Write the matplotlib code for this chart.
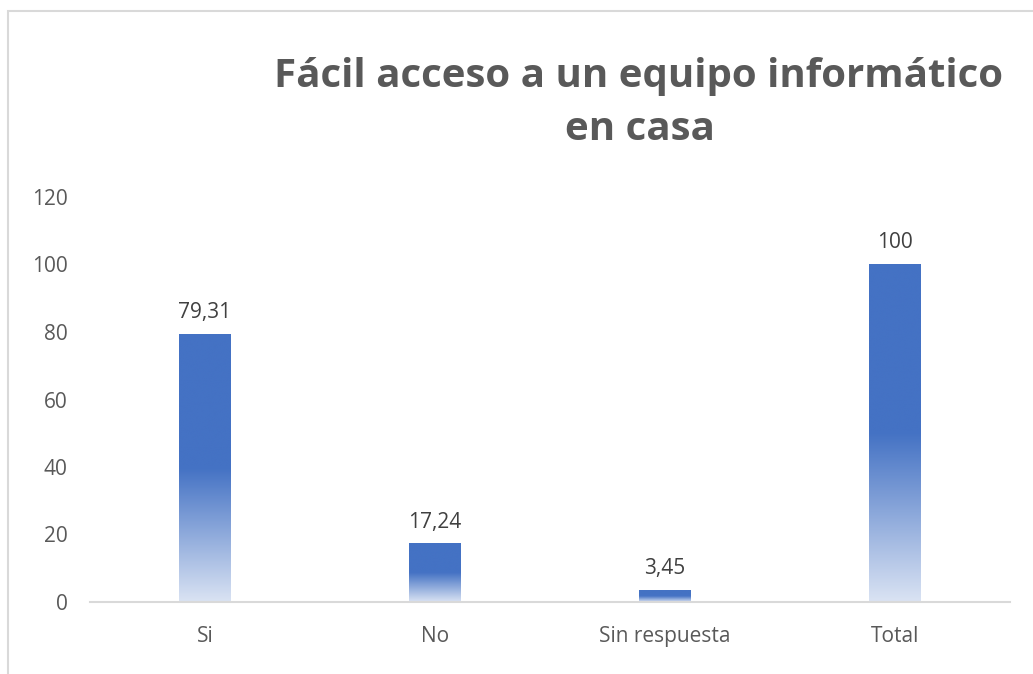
import numpy as np
import matplotlib
matplotlib.use('Agg')
import matplotlib.pyplot as plt
from matplotlib.colors import LinearSegmentedColormap
from matplotlib.patches import Rectangle

categories = ['Si', 'No', 'Sin respuesta', 'Total']
values = [79.31, 17.24, 3.45, 100]
labels = ['79,31', '17,24', '3,45', '100']
yticks = [0, 20, 40, 60, 80, 100, 120]

plt.rcParams['font.family'] = ['Open Sans', 'DejaVu Sans']

my_dpi = 100
fig = plt.figure(figsize=(1033 / my_dpi, 674 / my_dpi), dpi=my_dpi)
ax = fig.add_axes([90 / 1033, 72 / 674, 920 / 1033, 405 / 674])

# border of the chart area
fig.patches.append(Rectangle((7.5 / 1033, -0.2), 1.5, 1.2 - 10.5 / 674,
                             transform=fig.transFigure, fill=False,
                             edgecolor='#D9D9D9', linewidth=1.5, clip_on=False))

# gradient: solid in top half, fading to light blue at the bottom
cmap = LinearSegmentedColormap.from_list('fade', [(0, '#DAE3F3'), (0.5, '#4472C4'), (1, '#4472C4')])
grad = np.linspace(0, 1, 256).reshape(-1, 1)

bar_width = 0.222
x = np.arange(len(categories))
bars = ax.bar(x, values, bar_width, color='none')
for b in bars:
    x0, y0, w, h = b.get_x(), b.get_y(), b.get_width(), b.get_height()
    ax.imshow(grad, extent=[x0, x0 + w, y0, y0 + h], origin='lower', cmap=cmap,
              aspect='auto', interpolation='bicubic', zorder=2)

for xi, v, lab in zip(x, values, labels):
    ax.annotate(lab, (xi, v), xytext=(0, 8), textcoords='offset points',
                ha='center', va='bottom', fontsize=15, color='#404040')

ax.set_xlim(-0.5, 3.5)
ax.set_ylim(0, 120)
ax.set_xticks(x)
ax.set_xticklabels(categories)
ax.set_yticks(yticks)
ax.tick_params(axis='y', length=0, pad=16, labelsize=15, labelcolor='#595959')
ax.tick_params(axis='x', length=0, pad=17, labelsize=15, labelcolor='#595959')

for name, spine in ax.spines.items():
    spine.set_visible(name == 'bottom')
ax.spines['bottom'].set_color('#D9D9D9')
ax.spines['bottom'].set_linewidth(1.5)
ax.spines['bottom'].set_zorder(3)

fig.text(638 / 1033, 1 - 87 / 674, 'Fácil acceso a un equipo informático',
         ha='center', va='baseline', fontsize=29, fontweight='bold', color='#595959')
fig.text(640 / 1033, 1 - 140 / 674, 'en casa',
         ha='center', va='baseline', fontsize=29, fontweight='bold', color='#595959')

fig.savefig('out.png', dpi=my_dpi)
